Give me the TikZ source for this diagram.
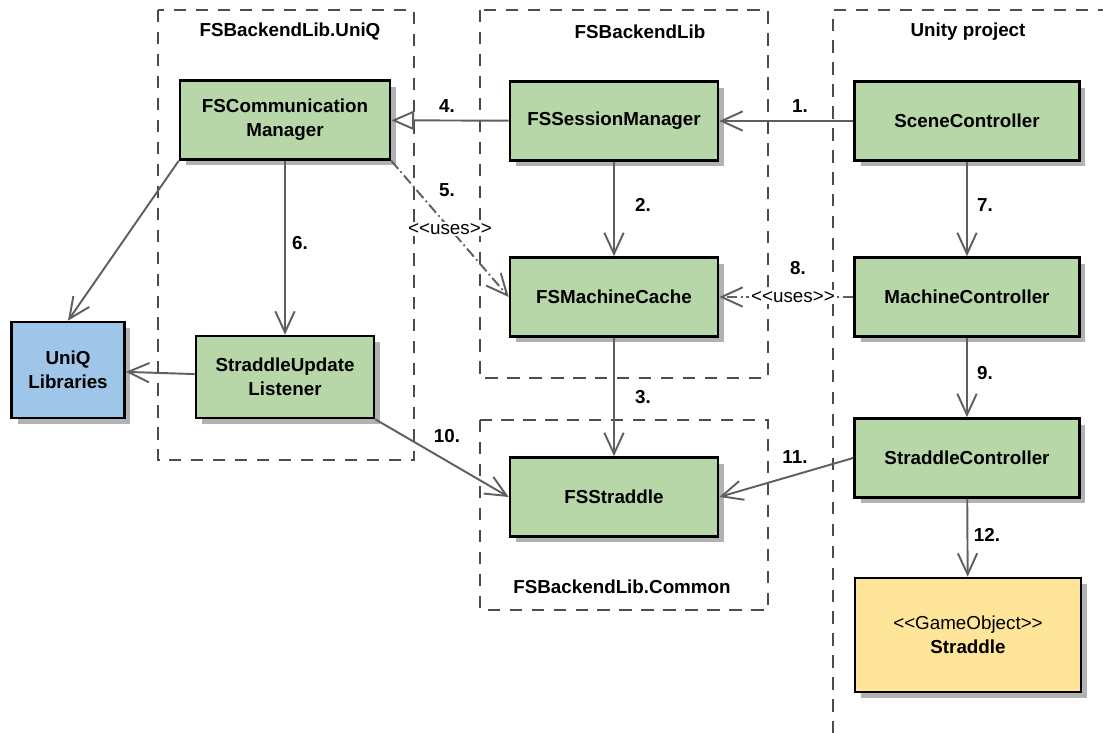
\documentclass[tikz,border=0pt]{standalone}
\usepackage{fontspec}
\setmainfont{Liberation Sans}
\usetikzlibrary{arrows.meta, shadows}
\definecolor{clsgreen}{RGB}{183, 215, 168}
\definecolor{libblue}{RGB}{159, 197, 232}
\definecolor{objyellow}{RGB}{255, 229, 153}
\definecolor{linkgray}{RGB}{95, 95, 95}
\newcommand{\lblfont}{\fontsize{10.7}{13.6}\selectfont}

\begin{document}
\begin{tikzpicture}[x=0.02cm, y=-0.02cm,
		cls/.style={draw=black, line width=1.5pt, fill=clsgreen, align=center,
			minimum width=4.16cm, minimum height=1.58cm,
			font=\lblfont\bfseries,
			drop shadow={shadow xshift=0.12cm, shadow yshift=-0.12cm,
				fill=black!30, opacity=1}},
		pkg/.style={draw=black!70, line width=0.6pt, dash pattern=on 7pt off 5.5pt},
		pkgname/.style={font=\lblfont\bfseries},
		link/.style={linkgray, line width=1.1pt, -{Straight Barb[length=12pt, width=11pt]}},
		inherit/.style={linkgray, line width=1.1pt,
			-{Triangle[open, length=13pt, width=11pt, fill=white]}},
		uses/.style={link, dash pattern=on 6pt off 2pt on 1pt off 2pt},
		num/.style={font=\lblfont\bfseries},
		stereo/.style={font=\lblfont, text=black, fill=white, inner sep=1pt}]
	\useasboundingbox (0,0) rectangle (1103,733);
	%--- packages ---
	\draw[pkg] (158,10) rectangle (414,460);
	\node[pkgname] (pUniQ) at (290,32) {FSBackendLib.UniQ};
	\draw[pkg] (480,10) rectangle (768,378);
	\node[pkgname] (pLib) at (640,32) {FSBackendLib};
	\draw[pkg] (480,420) rectangle (768,610);
	\node[pkgname] (pCommon) at (622,587) {FSBackendLib.Common};
	\draw[pkg] (1110,10) -- (833,10) -- (833,740);
	\node[pkgname] (pUnity) at (968,32) {Unity project};
	%--- classes ---
	\node[cls, minimum width=4.2cm] (comm) at (285,120) {FSCommunication\\Manager};
	\node[cls] (session) at (614,121) {FSSessionManager};
	\node[cls, minimum width=4.5cm] (scene) at (967,121) {SceneController};
	\node[cls] (cache) at (614,297) {FSMachineCache};
	\node[cls, minimum width=4.5cm] (machine) at (967,297) {MachineController};
	\node[cls, fill=libblue, minimum width=2.26cm, minimum height=1.92cm]
		(uniq) at (68,370) {UniQ\\Libraries};
	\node[cls, minimum width=3.56cm, minimum height=1.64cm]
		(listener) at (285,377) {StraddleUpdate\\Listener};
	\node[cls] (straddle) at (614,497) {FSStraddle};
	\node[cls, minimum width=4.5cm] (sctrl) at (967,458) {StraddleController};
	\node[cls, fill=objyellow, minimum width=4.52cm, minimum height=2.28cm]
		(gameobj) at (968,635) {{\mdseries <{}<GameObject>{}>}\\Straddle};
	%--- connectors ---
	\draw[link] (scene) -- (session);
	\node[num] (n1) at (800,106) {1.};
	\draw[link] (session) -- (cache);
	\node[num] (n2) at (643,205) {2.};
	\draw[link] (cache) -- (straddle);
	\node[num] (n3) at (643,397) {3.};
	\draw[inherit] (session) -- (comm);
	\node[num] (n4) at (447,106) {4.};
	\draw[uses] (comm.south east) -- (cache.west)
		node[stereo, pos=0.5] (u5) {<{}<uses>{}>};
	\node[num] (n5) at (447,190) {5.};
	\draw[link] (comm) -- (listener);
	\node[num] (n6) at (300,243) {6.};
	\draw[link] (scene) -- (machine);
	\node[num] (n7) at (985,205) {7.};
	\draw[uses] (machine) -- (cache)
		node[stereo, pos=0.45] (u8) {<{}<uses>{}>};
	\node[num] (n8) at (798,268) {8.};
	\draw[link] (machine) -- (sctrl);
	\node[num] (n9) at (985,373) {9.};
	\draw[link] (listener.south east) -- (straddle.west);
	\node[num] (n10) at (447,436) {10.};
	\draw[link] (sctrl.west) -- (straddle.east);
	\node[num] (n11) at (795,457) {11.};
	\draw[link] (sctrl) -- (gameobj);
	\node[num] (n12) at (987,535) {12.};
	\draw[link] (comm.south west) -- (uniq.north);
	\draw[link] (listener) -- (uniq);
\end{tikzpicture}
\end{document}
